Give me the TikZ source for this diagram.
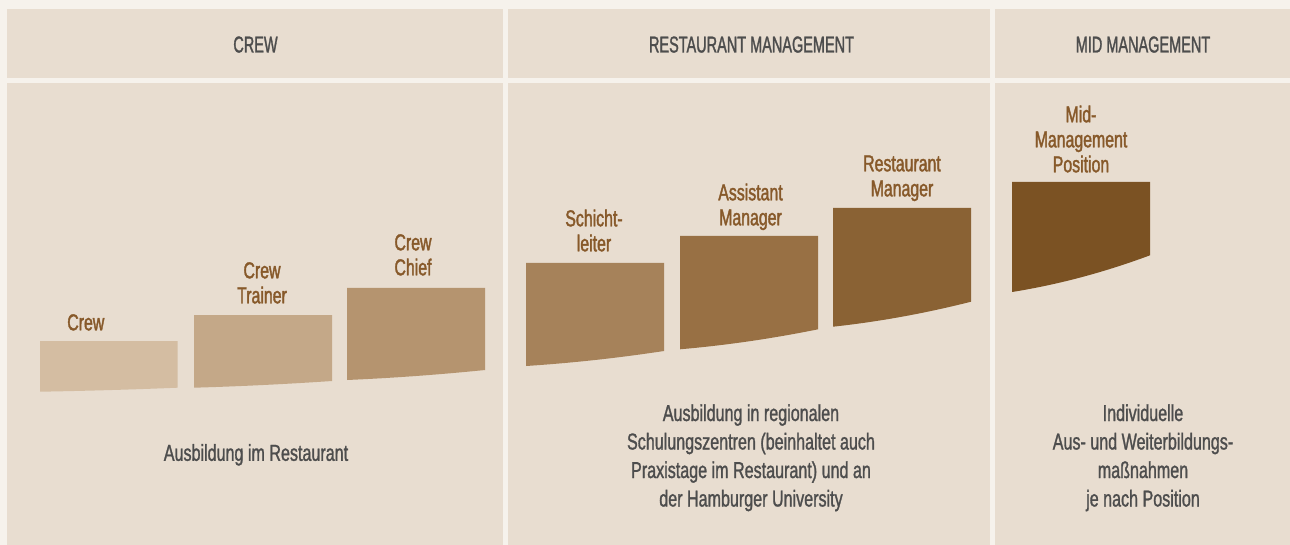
\documentclass[tikz,border=0pt]{standalone}
\usepackage{fontspec}
\usetikzlibrary{calc}
\newfontfamily\hdrfont[FakeStretch=0.63,FakeBold=1.3]{Liberation Sans}
\newfontfamily\lblfont[FakeStretch=0.69,FakeBold=1.6]{Liberation Sans}
\newfontfamily\txtfont[FakeStretch=0.70,FakeBold=1.2]{Liberation Sans}
\definecolor{outerbg}{HTML}{F6F2EC}
\definecolor{panelbg}{HTML}{E8DDD0}
\definecolor{lblcol}{HTML}{87592A}
\definecolor{txtcol}{HTML}{4D4D4D}
\definecolor{bxa}{HTML}{D4BDA2}
\definecolor{bxb}{HTML}{C4A888}
\definecolor{bxc}{HTML}{B5946F}
\definecolor{bxd}{HTML}{A6825A}
\definecolor{bxe}{HTML}{987044}
\definecolor{bxf}{HTML}{8A6234}
\definecolor{bxg}{HTML}{7B5223}
\tikzset{
  panel/.style={fill=panelbg, draw=none},
  hdr/.style={font=\hdrfont\fontsize{23}{27}\selectfont, text=txtcol, inner sep=0pt, anchor=base},
  lbl/.style={font=\lblfont\fontsize{23}{25}\selectfont, text=lblcol, inner sep=0pt, align=center, anchor=south, text depth=0pt},
  desc/.style={font=\txtfont\fontsize{23}{28.5}\selectfont, text=txtcol, inner sep=0pt, align=center, anchor=south, text depth=0pt},
}
% #1 xl, #2 xr, #3 top, #4 bottom-left y, #5 bottom-right y, #6 colour
\newcommand{\stepshape}[6]{%
  \pgfmathsetmacro{\qx}{(#1+#2)/2}%
  \pgfmathsetmacro{\qy}{#4-0.3*(#4-#5)}%
  \fill[#6] (#1,#3) -- (#2,#3) -- (#2,#5)
    .. controls ($(#2,#5)!2/3!(\qx,\qy)$) and ($(#1,#4)!2/3!(\qx,\qy)$) .. (#1,#4) -- cycle;
}
\begin{document}
\begin{tikzpicture}[x=1pt,y=-1pt]
\useasboundingbox (0,0) rectangle (1290,545);
\fill[outerbg] (0,0) rectangle (1290,545);
% header panels
\fill[panel] (7,9) rectangle (502.7,77.7);
\fill[panel] (507.7,9) rectangle (989.5,77.7);
\fill[panel] (995,9) rectangle (1290,77.7);
% content panels
\fill[panel] (7,82.7) rectangle (502.7,545);
\fill[panel] (507.7,82.7) rectangle (989.5,545);
\fill[panel] (995,82.7) rectangle (1290,545);
% headers
\node[hdr] (hcrew) at (255.5,52.5) {CREW};
\node[hdr] (hrm) at (751.5,52.5) {RESTAURANT MANAGEMENT};
\node[hdr] (hmm) at (1143,52.5) {MID MANAGEMENT};
% step shapes
\stepshape{40}{177.7}{341}{391.7}{387.7}{bxa}
\stepshape{194}{332}{315}{387.7}{381}{bxb}
\stepshape{347}{485}{288}{380}{370}{bxc}
\stepshape{526}{664}{263}{366}{351}{bxd}
\stepshape{680}{818}{236}{349.3}{329.3}{bxe}
\stepshape{833}{971}{208}{326.7}{301.7}{bxf}
\stepshape{1012}{1150}{182}{292}{255.3}{bxg}
% labels
\node[lbl] (lcrew) at (85.8,330.5) {Crew};
\node[lbl] (ltrainer) at (262,303.5) {Crew\\Trainer};
\node[lbl] (lchief) at (413,275.5) {Crew\\Chief};
\node[lbl] (lschicht) at (594,251.5) {Schicht-\\leiter};
\node[lbl] (lassist) at (750.5,225.5) {Assistant\\Manager};
\node[lbl] (lrm) at (902,196.5) {Restaurant\\Manager};
\node[lbl] (lmid) at (1081,172.5) {Mid-\\Management\\Position};
% descriptions
\node[desc] (dcrew) at (256,461) {Ausbildung im Restaurant};
\node[desc] (drm) at (751,506.7) {Ausbildung in regionalen\\Schulungszentren (beinhaltet auch\\Praxistage im Restaurant) und an\\der Hamburger University};
\node[desc] (dmm) at (1143,506.7) {Individuelle\\Aus- und Weiterbildungs-\\maßnahmen\\je nach Position};
\end{tikzpicture}
\end{document}
